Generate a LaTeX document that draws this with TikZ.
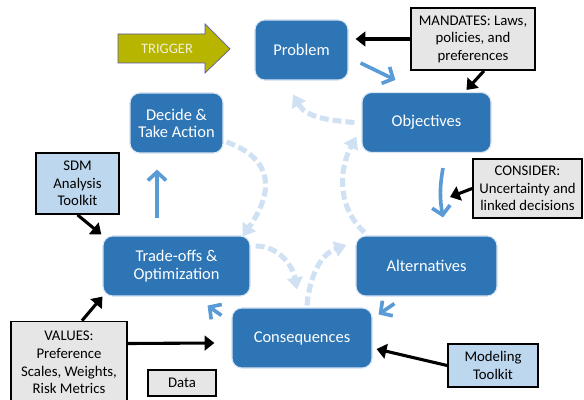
\documentclass[tikz,border=0pt]{standalone}
\usepackage{fontspec}
\setmainfont{Carlito}
\usepackage{tikz}
\usetikzlibrary{arrows.meta, calc}
\usepackage{xcolor}

\definecolor{sdmblue}{RGB}{46,117,182}
\definecolor{sdmedge}{RGB}{215,228,242}
\definecolor{flowblue}{RGB}{91,155,213}
\definecolor{loopblue}{RGB}{207,225,243}
\definecolor{boxgray}{RGB}{231,230,230}
\definecolor{toolblue}{RGB}{189,215,238}
\definecolor{trigolive}{RGB}{183,181,0}
\definecolor{trigtext}{RGB}{240,240,215}

\begin{document}
\begin{tikzpicture}
	[x=0.025cm, y=0.025cm,
	phase/.style={rounded corners=7pt, fill=sdmblue, draw=sdmedge, line width=0.8pt,
		text=white, align=center, minimum height=1.5cm, font=\fontsize{11.7}{12.3}\selectfont},
	input/.style={fill=boxgray, draw=black, line width=1.2pt, align=center, inner sep=1pt,
		font=\fontsize{10.5}{12.5}\selectfont},
	tool/.style={input, fill=toolblue},
	feed/.style={draw=black, line width=2.2pt, -{Triangle[length=7pt,width=10.5pt]}},
	flow/.style={draw=flowblue, line width=2.6pt, -{Straight Barb[length=6pt,width=13pt]}},
	cycle/.style={draw=loopblue, line width=3.6pt, dash pattern=on 6.4pt off 2.8pt,
		-{Triangle[length=8.5pt,width=11pt]}}]
	\useasboundingbox (0,0) rectangle (584,-400);

	\node [phase, minimum width=2.325cm] (prob) at (301.5,-50) {Problem};
	\node [phase, minimum width=3.225cm] (obj) at (426.5,-122.5) {Objectives};
	\node [phase, minimum width=3.525cm] (alt) at (426.5,-266) {Alternatives};
	\node [phase, minimum width=3.5cm] (csq) at (302,-338) {Consequences};
	\node [phase, minimum width=3.675cm] (trade) at (176.5,-266) {Trade-offs \&\\Optimization};
	\node [phase, minimum width=2.325cm] (dec) at (176.5,-123) {Decide \&\\Take Action};

	\node [input, minimum width=3.1cm, minimum height=1.55cm] (mand) at (473,-39)
		{MANDATES: Laws,\\policies, and\\preferences};
	\node [input, minimum width=2.725cm, minimum height=1.475cm] (cons) at (527.5,-188.5)
		{CONSIDER:\\Uncertainty and\\linked decisions};
	\node [input, minimum width=2.9cm, minimum height=2.05cm] (val) at (69,-362.5)
		{VALUES:\\Preference\\Scales, Weights,\\Risk Metrics};
	\node [input, minimum width=1.7cm, minimum height=0.65cm] (data) at (182,-383) {Data};
	\node [tool, minimum width=2.075cm, minimum height=1.525cm] (sdm) at (77.5,-183.5)
		{SDM\\Analysis\\Toolkit};
	\node [tool, minimum width=2.25cm, minimum height=1.075cm] (model) at (493,-365.5)
		{Modeling\\Toolkit};

	\filldraw [fill=trigolive, draw=gray!70!blue, line width=0.5pt]
		(118,-34) -- (205,-34) -- (205,-24) -- (230,-49) -- (205,-73) -- (205,-63) -- (118,-63) -- cycle;
	\node [text=trigtext, font=\fontsize{10.3}{12}\selectfont] (trig) at (167,-49) {TRIGGER};

	\coordinate (unc) at (450,-197);

	% main steps
	\draw [flow] ([shift={(12,-13)}]prob.east) -- ([shift={(34,12)}]obj.north west);
	\draw [flow] ([shift={(16.5,-15)}]obj.south) to [bend right=10] ([shift={(16.5,18)}]alt.north);
	\draw [flow] ([shift={(39,-7)}]alt.south west) -- ([shift={(6,-7)}]csq.north east);
	\draw [flow] ([shift={(-10,-8)}]csq.north west) -- ([shift={(-43,-9)}]trade.south east);
	\draw [flow] ([shift={(-19.5,17)}]trade.north) -- ([shift={(-19.5,-16)}]dec.south);

	% iterations
	\draw [cycle] ([shift={(-7,0)}]obj.west) to [out=175, in=300] ([shift={(-8.5,-14)}]prob.south);
	\draw [cycle] ([shift={(3,-19)}]dec.east) to [out=-20, in=55, looseness=1.4] ([shift={(-8,-1)}]trade.north east);
	\draw [cycle] ([shift={(5,20)}]trade.east) to [out=0, in=100] ([shift={(-5,18)}]csq.north);
	\draw [cycle] ([shift={(5,2)}]csq.north) to [out=85, in=200] ([shift={(-9,21)}]alt.west);
	\draw [cycle] ([shift={(9,3)}]alt.north west) to [out=137, in=242] ([shift={(-5,-14)}]obj.west);

	% inputs
	\draw [feed, shorten >=5pt] (mand.west) -- (mand.west -| prob.east);
	\draw [feed] ([shift={(11,0)}]mand.south) -- ([shift={(40,2)}]obj.north);
	\draw [feed] (cons.west) -- (unc);
	\draw [feed, shorten >=1pt] (sdm.south) -- (trade.north west);
	\draw [feed] ([shift={(13,0)}]val.north) -- (trade.south west);
	\draw [feed] ([shift={(0,19)}]val.east) -- ([shift={(-17,-5)}]csq.west);
	\draw [feed] (model.west) -- ([shift={(4,-11)}]csq.east);
\end{tikzpicture}
\end{document}
